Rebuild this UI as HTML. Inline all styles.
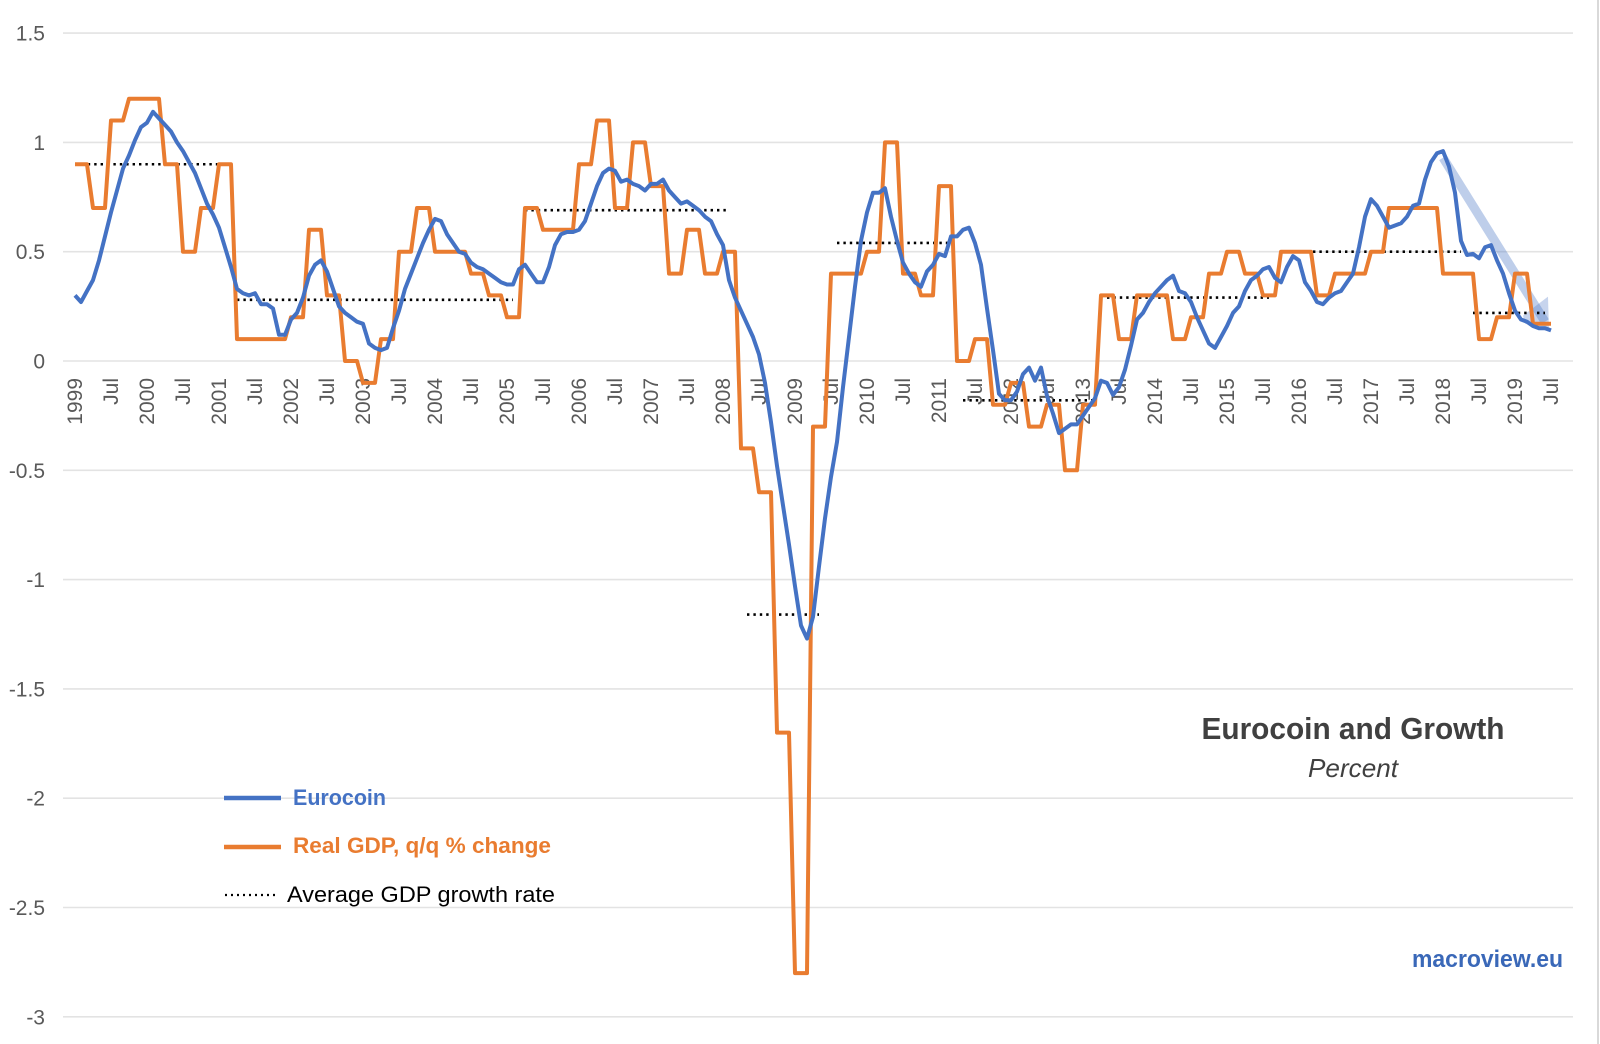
<!DOCTYPE html>
<html><head><meta charset="utf-8"><title>Eurocoin and Growth</title>
<style>
html,body{margin:0;padding:0;background:#fff;}
svg{display:block;font-family:"Liberation Sans",sans-serif;}
</style></head>
<body>
<svg id="chart" width="1600" height="1044" viewBox="0 0 1600 1044" xmlns="http://www.w3.org/2000/svg">
<rect x="0" y="0" width="1600" height="1044" fill="#fff"/>
<line x1="1598" y1="0" x2="1598" y2="1044" stroke="#d9d9d9" stroke-width="2"/>
<g id="grid"></g>
<g id="yaxis"></g>
<g id="xaxis"></g>
<g id="series"></g>
<g>
  <line x1="224" y1="798" x2="281" y2="798" stroke="#4472C4" stroke-width="4.5"/>
  <text x="293" y="805" font-size="22" font-weight="bold" fill="#4472C4" textLength="93" lengthAdjust="spacingAndGlyphs">Eurocoin</text>
  <line x1="224" y1="847" x2="281" y2="847" stroke="#E97C30" stroke-width="4.5"/>
  <text x="293" y="853" font-size="22" font-weight="bold" fill="#E97C30" textLength="258" lengthAdjust="spacingAndGlyphs">Real GDP, q/q % change</text>
  <line x1="225" y1="895" x2="277" y2="895" stroke="#000" stroke-width="2.2" stroke-dasharray="2 4"/>
  <text x="287" y="902" font-size="22" fill="#000" textLength="268" lengthAdjust="spacingAndGlyphs">Average GDP growth rate</text>
</g>
<text x="1353" y="739" text-anchor="middle" font-size="31" font-weight="bold" fill="#404040" textLength="303" lengthAdjust="spacingAndGlyphs">Eurocoin and Growth</text>
<text x="1353" y="777" text-anchor="middle" font-size="26" font-style="italic" fill="#404040" textLength="90" lengthAdjust="spacingAndGlyphs">Percent</text>
<text x="1563" y="967" text-anchor="end" font-size="24" font-weight="bold" fill="#3A68B8" textLength="151" lengthAdjust="spacingAndGlyphs">macroview.eu</text>
</svg>
<script>
const yTicks = [1.5, 1, 0.5, 0, -0.5, -1, -1.5, -2, -2.5, -3];
const yTickLabels = ["1.5", "1", "0.5", "0", "-0.5", "-1", "-1.5", "-2", "-2.5", "-3"];
const years = [1999,2000,2001,2002,2003,2004,2005,2006,2007,2008,2009,2010,2011,2012,2013,2014,2015,2016,2017,2018,2019];
const eurocoin = [
0.30,0.27,0.32,0.37,0.46,0.57,0.68,0.78,0.88,0.94,1.01,1.07,
1.09,1.14,1.11,1.08,1.05,1.00,0.96,0.91,0.86,0.79,0.72,0.67,
0.61,0.52,0.43,0.33,0.31,0.30,0.31,0.26,0.26,0.24,0.12,0.12,
0.19,0.22,0.29,0.39,0.44,0.46,0.41,0.33,0.25,0.22,0.20,0.18,
0.17,0.08,0.06,0.05,0.06,0.15,0.23,0.33,0.40,0.47,0.54,0.60,
0.65,0.64,0.58,0.54,0.50,0.49,0.45,0.43,0.42,0.40,0.38,0.36,
0.35,0.35,0.42,0.44,0.40,0.36,0.36,0.43,0.53,0.58,0.59,0.59,
0.60,0.64,0.72,0.80,0.86,0.88,0.87,0.82,0.83,0.81,0.80,0.78,
0.81,0.81,0.83,0.78,0.75,0.72,0.73,0.71,0.69,0.66,0.64,0.58,
0.53,0.37,0.29,0.23,0.17,0.11,0.03,-0.10,-0.28,-0.48,-0.66,-0.84,
-1.03,-1.21,-1.27,-1.17,-0.94,-0.72,-0.53,-0.37,-0.12,0.11,0.34,0.55,
0.68,0.77,0.77,0.79,0.66,0.55,0.45,0.40,0.36,0.34,0.41,0.44,
0.49,0.48,0.57,0.57,0.60,0.61,0.54,0.44,0.24,0.05,-0.15,-0.18,
-0.18,-0.14,-0.06,-0.03,-0.09,-0.03,-0.16,-0.24,-0.33,-0.31,-0.29,-0.29,
-0.25,-0.21,-0.17,-0.09,-0.10,-0.155,-0.12,-0.04,0.07,0.19,0.22,0.27,
0.31,0.34,0.37,0.39,0.32,0.31,0.27,0.20,0.14,0.08,0.06,0.11,
0.16,0.22,0.25,0.32,0.37,0.39,0.42,0.43,0.38,0.36,0.43,0.48,
0.46,0.36,0.32,0.27,0.26,0.29,0.31,0.32,0.36,0.40,0.52,0.66,
0.74,0.71,0.66,0.61,0.62,0.63,0.66,0.71,0.72,0.83,0.91,0.95,
0.96,0.89,0.77,0.55,0.485,0.49,0.47,0.52,0.53,0.46,0.40,0.31,
0.23,0.19,0.18,0.16,0.15,0.15,0.14];
const gdpQuarterly = [
0.9,0.7,1.1,1.2, 1.2,0.9,0.5,0.7, 0.9,0.1,0.1,0.1, 0.2,0.6,0.3,0.0,
-0.1,0.1,0.5,0.7, 0.5,0.5,0.4,0.3, 0.2,0.7,0.6,0.6, 0.9,1.1,0.7,1.0,
0.8,0.4,0.6,0.4, 0.5,-0.4,-0.6,-1.7, -2.8,-0.3,0.4,0.4, 0.5,1.0,0.4,0.3,
0.8,0.0,0.1,-0.2, -0.1,-0.3,-0.2,-0.5, -0.2,0.3,0.1,0.3, 0.3,0.1,0.2,0.4,
0.5,0.4,0.3,0.5, 0.5,0.3,0.4,0.4, 0.5,0.7,0.7,0.7, 0.4,0.4,0.1,0.2,
0.4,0.17];
const avgStartMonth = [0, 27, 75, 112, 127, 148, 172, 201, 233];
const avgEndMonth = [25, 73, 109, 124, 146, 170, 199, 231, 245];
const avgValue = [0.9, 0.28, 0.69, -1.16, 0.54, -0.18, 0.29, 0.5, 0.22];
const trendStart = {month: 228, value: 0.93};
const trendEnd = {month: 245, value: 0.18};

const NS = "http://www.w3.org/2000/svg";
const X0 = 75, STEP = 6.0, Y0 = 361, YSCALE = 218.6;
function xScale(m){ return X0 + m * STEP; }
function yScale(v){ return Y0 - v * YSCALE; }
function mk(tag, attrs, parent){
  const el = document.createElementNS(NS, tag);
  for (const k in attrs) el.setAttribute(k, attrs[k]);
  parent.appendChild(el);
  return el;
}
const grid = document.getElementById('grid');
const yaxis = document.getElementById('yaxis');
const xaxis = document.getElementById('xaxis');
const series = document.getElementById('series');

yTicks.forEach((t, i) => {
  const gl = mk('line', {x1: 63, x2: 1573, y1: yScale(t), y2: yScale(t), stroke: '#e3e3e3', 'stroke-width': 1.6}, grid);
  
  
  const tx = mk('text', {x: 45, y: yScale(t) + 7.5, 'text-anchor': 'end', 'font-size': 21, fill: '#595959'}, yaxis);
  tx.textContent = yTickLabels[i];
  
  
});

years.forEach((yr, i) => {
  [0, 6].forEach(off => {
    const m = i * 12 + off;
    const cx = xScale(m) + 7;
    const tx = mk('text', {x: 0, y: 0, 'text-anchor': 'end', 'font-size': 21, fill: '#595959',
      transform: 'translate(' + cx + ',378) rotate(-90)'}, xaxis);
    tx.textContent = off === 0 ? String(yr) : 'Jul';
    
    
  });
});

// trend band
const tx1 = xScale(trendStart.month), ty1 = yScale(trendStart.value);
const tx2 = xScale(trendEnd.month), ty2 = yScale(trendEnd.value);
const band = mk('line', {x1: tx1, y1: ty1, x2: tx2, y2: ty2, stroke: 'rgba(68,114,196,0.35)', 'stroke-width': 9, 'stroke-linecap': 'butt'}, series);


const fan = mk('polygon', {points: (tx2-22)+','+(ty2-6)+' '+(tx2+3)+','+(ty2-25)+' '+(tx2+4)+','+(ty2+10)+' '+(tx2-20)+','+(ty2+2), fill: 'rgba(68,114,196,0.3)'}, series);



// average lines
avgValue.forEach((v, i) => {
  const l = mk('line', {x1: xScale(avgStartMonth[i]), x2: xScale(avgEndMonth[i]), y1: yScale(v), y2: yScale(v),
    stroke: '#000', 'stroke-width': 2.6, 'stroke-dasharray': '2.4 4'}, series);
  
  
});

// GDP monthly step line
const gdpMonths = 247;
let gp = [];
for (let m = 0; m < gdpMonths; m++){
  const q = Math.min(Math.floor(m / 3), gdpQuarterly.length - 1);
  gp.push(xScale(m).toFixed(1) + ',' + yScale(gdpQuarterly[q]).toFixed(1));
}
const gdpLine = mk('polyline', {points: gp.join(' '), fill: 'none', stroke: '#E97C30', 'stroke-width': 4, 'stroke-linejoin': 'round'}, series);



// Eurocoin
const ep = eurocoin.map((v, m) => xScale(m).toFixed(1) + ',' + yScale(v).toFixed(1));
const euroLine = mk('polyline', {points: ep.join(' '), fill: 'none', stroke: '#4472C4', 'stroke-width': 4, 'stroke-linejoin': 'round'}, series);


</script>
</body></html>
